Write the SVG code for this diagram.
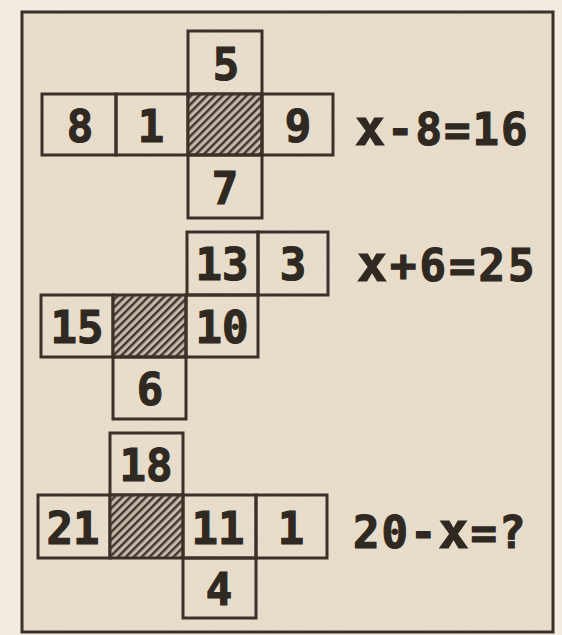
<svg xmlns="http://www.w3.org/2000/svg" width="562" height="635" viewBox="0 0 562 635">
<style>
.cell{fill:none;stroke:#3a3129;stroke-width:3}
.hcell{fill:url(#hatch);stroke:#3a3129;stroke-width:3}
.num{font-family:"DejaVu Sans Mono","Liberation Mono",monospace;font-weight:bold;font-size:44px;fill:#2f2922;stroke:#2f2922;stroke-width:1.2;text-anchor:middle}
.eq{font-family:"DejaVu Sans Mono","Liberation Mono",monospace;font-weight:bold;font-size:44px;fill:#2f2922;stroke:#2f2922;stroke-width:1.2;letter-spacing:2px}
.ex{font-size:50px}
</style>
<defs>
<pattern id="hatch" patternUnits="userSpaceOnUse" width="5.6" height="5.6" patternTransform="rotate(45)">
<rect width="5.6" height="5.6" fill="#c4b8aa"/>
<rect width="2.4" height="5.6" fill="#3f362d"/>
</pattern>
<filter id="paper" x="0" y="0" width="100%" height="100%">
<feTurbulence type="fractalNoise" baseFrequency="0.9" numOctaves="2" seed="3"/>
<feColorMatrix type="matrix" values="0 0 0 0 0.45  0 0 0 0 0.38  0 0 0 0 0.3  0 0 0 0.35 -0.1"/>
</filter>
</defs>
<rect width="562" height="635" fill="#f3ece0"/>
<rect x="22" y="12" width="531" height="620" fill="#eadfcd"/>
<rect x="22" y="12" width="531" height="620" fill="#000" filter="url(#paper)" opacity="0.5"/>
<rect id="frame" x="22" y="12" width="531" height="620" fill="none" stroke="#3a3129" stroke-width="3"/>

<g id="cross1">
<g id="c1-5"><rect class="cell" x="188" y="31" width="74" height="63"/><text class="num" x="226" y="80">5</text></g>
<g id="c1-8"><rect class="cell" x="42" y="94" width="74" height="61"/><text class="num" x="80" y="142">8</text></g>
<g id="c1-1"><rect class="cell" x="116" y="94" width="72" height="61"/><text class="num" x="151" y="142">1</text></g>
<g id="c1-x"><rect class="hcell" x="188" y="94" width="74" height="61"/></g>
<g id="c1-9"><rect class="cell" x="262" y="94" width="71" height="61"/><text class="num" x="298" y="142">9</text></g>
<g id="c1-7"><rect class="cell" x="188" y="155" width="74" height="63"/><text class="num" x="225" y="204">7</text></g>
</g>
<g id="eq1"><text class="eq" x="355" y="145"><tspan class="ex">x</tspan>-8=16</text></g>

<g id="cross2">
<g id="c2-13"><rect class="cell" x="187" y="232" width="71" height="63"/><text class="num" x="222" y="280">13</text></g>
<g id="c2-3"><rect class="cell" x="258" y="232" width="70" height="63"/><text class="num" x="293" y="280">3</text></g>
<g id="c2-15"><rect class="cell" x="41" y="295" width="72" height="62"/><text class="num" x="77" y="343">15</text></g>
<g id="c2-x"><rect class="hcell" x="113" y="295" width="73" height="62"/></g>
<g id="c2-10"><rect class="cell" x="186" y="295" width="72" height="62"/><text class="num" x="222" y="343">10</text></g>
<g id="c2-6"><rect class="cell" x="113" y="357" width="73" height="62"/><text class="num" x="150" y="405">6</text></g>
</g>
<g id="eq2"><text class="eq" x="357" y="281" style="letter-spacing:3px"><tspan class="ex">x</tspan>+6=25</text></g>

<g id="cross3">
<g id="c3-18"><rect class="cell" x="110" y="433" width="73" height="62"/><text class="num" x="146" y="481">18</text></g>
<g id="c3-21"><rect class="cell" x="38" y="495" width="72" height="63"/><text class="num" x="73" y="544">21</text></g>
<g id="c3-x"><rect class="hcell" x="110" y="495" width="73" height="63"/></g>
<g id="c3-11"><rect class="cell" x="183" y="495" width="73" height="63"/><text class="num" x="218" y="544">11</text></g>
<g id="c3-1"><rect class="cell" x="256" y="495" width="71" height="63"/><text class="num" x="291" y="544">1</text></g>
<g id="c3-4"><rect class="cell" x="183" y="558" width="73" height="60"/><text class="num" x="219" y="605">4</text></g>
</g>
<g id="eq3"><text class="eq" x="353" y="548">20-<tspan class="ex">x</tspan>=?</text></g>
</svg>
